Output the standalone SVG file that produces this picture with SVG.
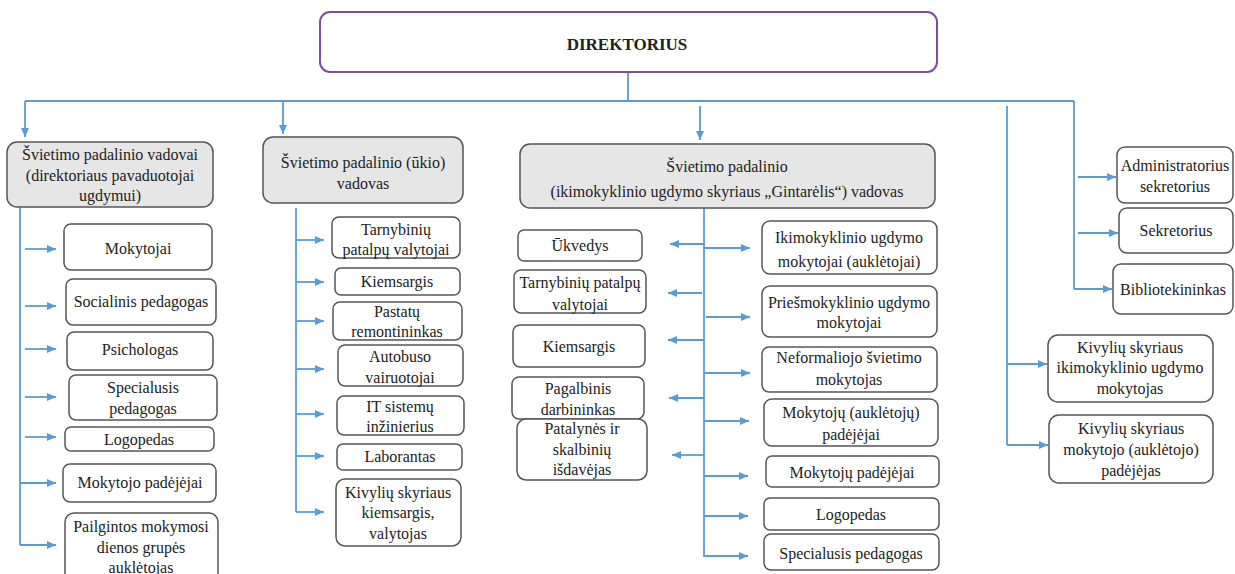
<svg xmlns="http://www.w3.org/2000/svg" width="1235" height="574" viewBox="0 0 1235 574" font-family="'Liberation Serif', 'DejaVu Serif', 'Noto Serif', serif">
<defs>
<marker id="ah" markerUnits="userSpaceOnUse" markerWidth="9" markerHeight="8" refX="9" refY="4" orient="auto"><path d="M0,0 L9,4 L0,8 z" fill="#5b9bd5"/></marker>
<style>
.b{fill:#fff;stroke:#555;stroke-width:1.5}
.h{fill:#e6e6e6;stroke:#555;stroke-width:1.5}
.t{font-family:'Liberation Serif','DejaVu Serif',serif;font-size:16px;fill:#222;text-anchor:middle}
.c line{stroke:#5b9bd5;stroke-width:1.8;fill:none}
.c line.a{marker-end:url(#ah)}
</style>
</defs>
<rect width="1235" height="574" fill="#fff"/>

<g id="connectors" class="c">
<line x1="628" y1="72" x2="628" y2="101"/>
<line x1="25" y1="101" x2="1074" y2="101"/>
<line class="a" x1="25" y1="101" x2="25" y2="137"/>
<line class="a" x1="283" y1="101" x2="283" y2="134"/>
<line class="a" x1="700" y1="106" x2="700" y2="140"/>
<line x1="1007" y1="106" x2="1007" y2="445"/>
<line x1="1074" y1="101" x2="1074" y2="289"/>
<line class="a" x1="1078" y1="177" x2="1116" y2="177"/>
<line class="a" x1="1078" y1="233" x2="1118" y2="233"/>
<line class="a" x1="1074" y1="289" x2="1112" y2="289"/>
<line class="a" x1="1007" y1="364" x2="1047" y2="364"/>
<line class="a" x1="1007" y1="445" x2="1048" y2="445"/>

<line x1="20" y1="204" x2="20" y2="545"/>
<line class="a" x1="25" y1="249" x2="56" y2="249"/>
<line class="a" x1="25" y1="306" x2="56" y2="306"/>
<line class="a" x1="25" y1="349" x2="56" y2="349"/>
<line class="a" x1="25" y1="397" x2="56" y2="397"/>
<line class="a" x1="25" y1="437" x2="56" y2="437"/>
<line class="a" x1="20" y1="483" x2="56" y2="483"/>
<line class="a" x1="20" y1="545" x2="56" y2="545"/>

<line x1="296" y1="208" x2="296" y2="512"/>
<line class="a" x1="296" y1="240" x2="324" y2="240"/>
<line class="a" x1="296" y1="282" x2="324" y2="282"/>
<line class="a" x1="296" y1="321" x2="324" y2="321"/>
<line class="a" x1="296" y1="369" x2="324" y2="369"/>
<line class="a" x1="296" y1="414" x2="324" y2="414"/>
<line class="a" x1="296" y1="456" x2="324" y2="456"/>
<line class="a" x1="296" y1="512" x2="324" y2="512"/>

<line x1="704" y1="208" x2="704" y2="557"/>
<line class="a" x1="704" y1="244" x2="670" y2="244"/>
<line class="a" x1="702" y1="293" x2="668" y2="293"/>
<line class="a" x1="704" y1="340" x2="668" y2="340"/>
<line class="a" x1="704" y1="398" x2="669" y2="398"/>
<line class="a" x1="704" y1="455" x2="672" y2="455"/>
<line class="a" x1="704" y1="248" x2="750" y2="248"/>
<line class="a" x1="706" y1="317" x2="750" y2="317"/>
<line class="a" x1="704" y1="373" x2="750" y2="373"/>
<line class="a" x1="704" y1="421" x2="749" y2="421"/>
<line class="a" x1="704" y1="476" x2="748" y2="476"/>
<line class="a" x1="704" y1="516" x2="748" y2="516"/>
<line class="a" x1="704" y1="556" x2="748" y2="556"/>
</g>

<g id="direktorius">
<rect x="320" y="12" width="617" height="60" rx="10" fill="#fff" stroke="#7b4f9d" stroke-width="2"/>
<text class="t" x="627" y="50" style="font-weight:bold;font-size:17px">DIREKTORIUS</text>
</g>

<g id="vadovai-ugdymui">
<rect class="h" x="7" y="142" width="206" height="65" rx="10"/>
<text class="t" x="110" y="160">Švietimo padalinio vadovai</text>
<text class="t" x="110" y="181">(direktoriaus pavaduotojai</text>
<text class="t" x="110" y="201">ugdymui)</text>
</g>
<g id="mokytojai"><rect class="b" x="64" y="224" width="148" height="46" rx="7"/><text class="t" x="138" y="254">Mokytojai</text></g>
<g id="socialinis"><rect class="b" x="66" y="279" width="150" height="46" rx="7"/><text class="t" x="141" y="307">Socialinis pedagogas</text></g>
<g id="psichologas"><rect class="b" x="67" y="332" width="146" height="38" rx="7"/><text class="t" x="140" y="355">Psichologas</text></g>
<g id="specialusis1"><rect class="b" x="69" y="375" width="148" height="45" rx="7"/><text class="t" x="143" y="393">Specialusis</text><text class="t" x="143" y="414">pedagogas</text></g>
<g id="logopedas1"><rect class="b" x="65" y="427" width="149" height="24" rx="6"/><text class="t" x="139" y="445">Logopedas</text></g>
<g id="mokytojo-padejejai"><rect class="b" x="63" y="464" width="153" height="38" rx="7"/><text class="t" x="140" y="488">Mokytojo  padėjėjai</text></g>
<g id="pailgintos"><rect class="b" x="65" y="513" width="153" height="70" rx="9"/><text class="t" x="141" y="532">Pailgintos mokymosi</text><text class="t" x="141" y="553">dienos grupės</text><text class="t" x="141" y="573">auklėtojas</text></g>

<g id="ukio-vadovas">
<rect class="h" x="263" y="137" width="200" height="66" rx="10"/>
<text class="t" x="363" y="168">Švietimo padalinio (ūkio)</text>
<text class="t" x="363" y="189">vadovas</text>
</g>
<g id="valytojai2"><rect class="b" x="332" y="217" width="128" height="41" rx="7"/><text class="t" x="396" y="235">Tarnybinių</text><text class="t" x="396" y="255">patalpų valytojai</text></g>
<g id="kiemsargis2"><rect class="b" x="335" y="268" width="125" height="27" rx="6"/><text class="t" x="397" y="287">Kiemsargis</text></g>
<g id="remontininkas"><rect class="b" x="333" y="302" width="129" height="38" rx="7"/><text class="t" x="397" y="317">Pastatų</text><text class="t" x="397" y="337">remontininkas</text></g>
<g id="autobuso"><rect class="b" x="338" y="345" width="125" height="41" rx="7"/><text class="t" x="400" y="362">Autobuso</text><text class="t" x="400" y="383">vairuotojai</text></g>
<g id="it"><rect class="b" x="337" y="396" width="127" height="39" rx="7"/><text class="t" x="400" y="412">IT sistemų</text><text class="t" x="400" y="432">inžinierius</text></g>
<g id="laborantas"><rect class="b" x="337" y="444" width="125" height="26" rx="6"/><text class="t" x="400" y="462">Laborantas</text></g>
<g id="kivyliu-kiemsargis"><rect class="b" x="336" y="479" width="125" height="67" rx="9"/><text class="t" x="398" y="498">Kivylių skyriaus</text><text class="t" x="398" y="518">kiemsargis,</text><text class="t" x="398" y="539">valytojas</text></g>

<g id="gintarelis-vadovas">
<rect class="h" x="520" y="144" width="415" height="64" rx="10"/>
<text class="t" x="727" y="172">Švietimo padalinio</text>
<text class="t" x="727" y="197">(ikimokyklinio ugdymo skyriaus „Gintarėlis“) vadovas</text>
</g>
<g id="ukvedys"><rect class="b" x="518" y="230" width="124" height="31" rx="6"/><text class="t" x="580" y="251">Ūkvedys</text></g>
<g id="valytojai3"><rect class="b" x="514" y="270" width="132" height="43" rx="7"/><text class="t" x="580" y="288">Tarnybinių patalpų</text><text class="t" x="580" y="310">valytojai</text></g>
<g id="kiemsargis3"><rect class="b" x="513" y="325" width="132" height="42" rx="7"/><text class="t" x="579" y="352">Kiemsargis</text></g>
<g id="pagalbinis"><rect class="b" x="512" y="377" width="132" height="42" rx="7"/><text class="t" x="578" y="394">Pagalbinis</text><text class="t" x="578" y="415">darbininkas</text></g>
<g id="patalynes"><rect class="b" x="517" y="419" width="130" height="61" rx="9"/><text class="t" x="582" y="434">Patalynės ir</text><text class="t" x="582" y="455">skalbinių</text><text class="t" x="582" y="475">išdavėjas</text></g>
<g id="ikimokyklinio"><rect class="b" x="762" y="221" width="175" height="53" rx="8"/><text class="t" x="849" y="243">Ikimokyklinio ugdymo</text><text class="t" x="849" y="267">mokytojai (auklėtojai)</text></g>
<g id="priesmokyklinio"><rect class="b" x="762" y="286" width="175" height="51" rx="8"/><text class="t" x="849" y="308">Priešmokyklinio ugdymo</text><text class="t" x="849" y="328">mokytojai</text></g>
<g id="neformaliojo"><rect class="b" x="762" y="347" width="175" height="45" rx="7"/><text class="t" x="849" y="363">Neformaliojo švietimo</text><text class="t" x="849" y="385">mokytojas</text></g>
<g id="aukletoju-padejejai"><rect class="b" x="764" y="399" width="174" height="47" rx="8"/><text class="t" x="851" y="418">Mokytojų (auklėtojų)</text><text class="t" x="851" y="440">padėjėjai</text></g>
<g id="mokytoju-padejejai"><rect class="b" x="766" y="456" width="173" height="31" rx="6"/><text class="t" x="852" y="478">Mokytojų padėjėjai</text></g>
<g id="logopedas3"><rect class="b" x="764" y="498" width="175" height="32" rx="6"/><text class="t" x="851" y="520">Logopedas</text></g>
<g id="specialusis3"><rect class="b" x="764" y="534" width="175" height="36" rx="7"/><text class="t" x="851" y="559">Specialusis pedagogas</text></g>

<g id="administratorius"><rect class="b" x="1117" y="147" width="116" height="56" rx="8"/><text class="t" x="1175" y="171">Administratorius</text><text class="t" x="1175" y="192">sekretorius</text></g>
<g id="sekretorius"><rect class="b" x="1119" y="208" width="114" height="45" rx="8"/><text class="t" x="1176" y="236">Sekretorius</text></g>
<g id="bibliotekininkas"><rect class="b" x="1113" y="264" width="120" height="50" rx="8"/><text class="t" x="1173" y="295">Bibliotekininkas</text></g>
<g id="kivyliu-mokytojas"><rect class="b" x="1048" y="335" width="165" height="67" rx="10"/><text class="t" x="1130" y="353">Kivylių skyriaus</text><text class="t" x="1130" y="373">ikimokyklinio ugdymo</text><text class="t" x="1130" y="394">mokytojas</text></g>
<g id="kivyliu-padejejas"><rect class="b" x="1049" y="415" width="164" height="68" rx="10"/><text class="t" x="1131" y="434">Kivylių skyriaus</text><text class="t" x="1131" y="455">mokytojo (auklėtojo)</text><text class="t" x="1131" y="476">padėjėjas</text></g>
</svg>
